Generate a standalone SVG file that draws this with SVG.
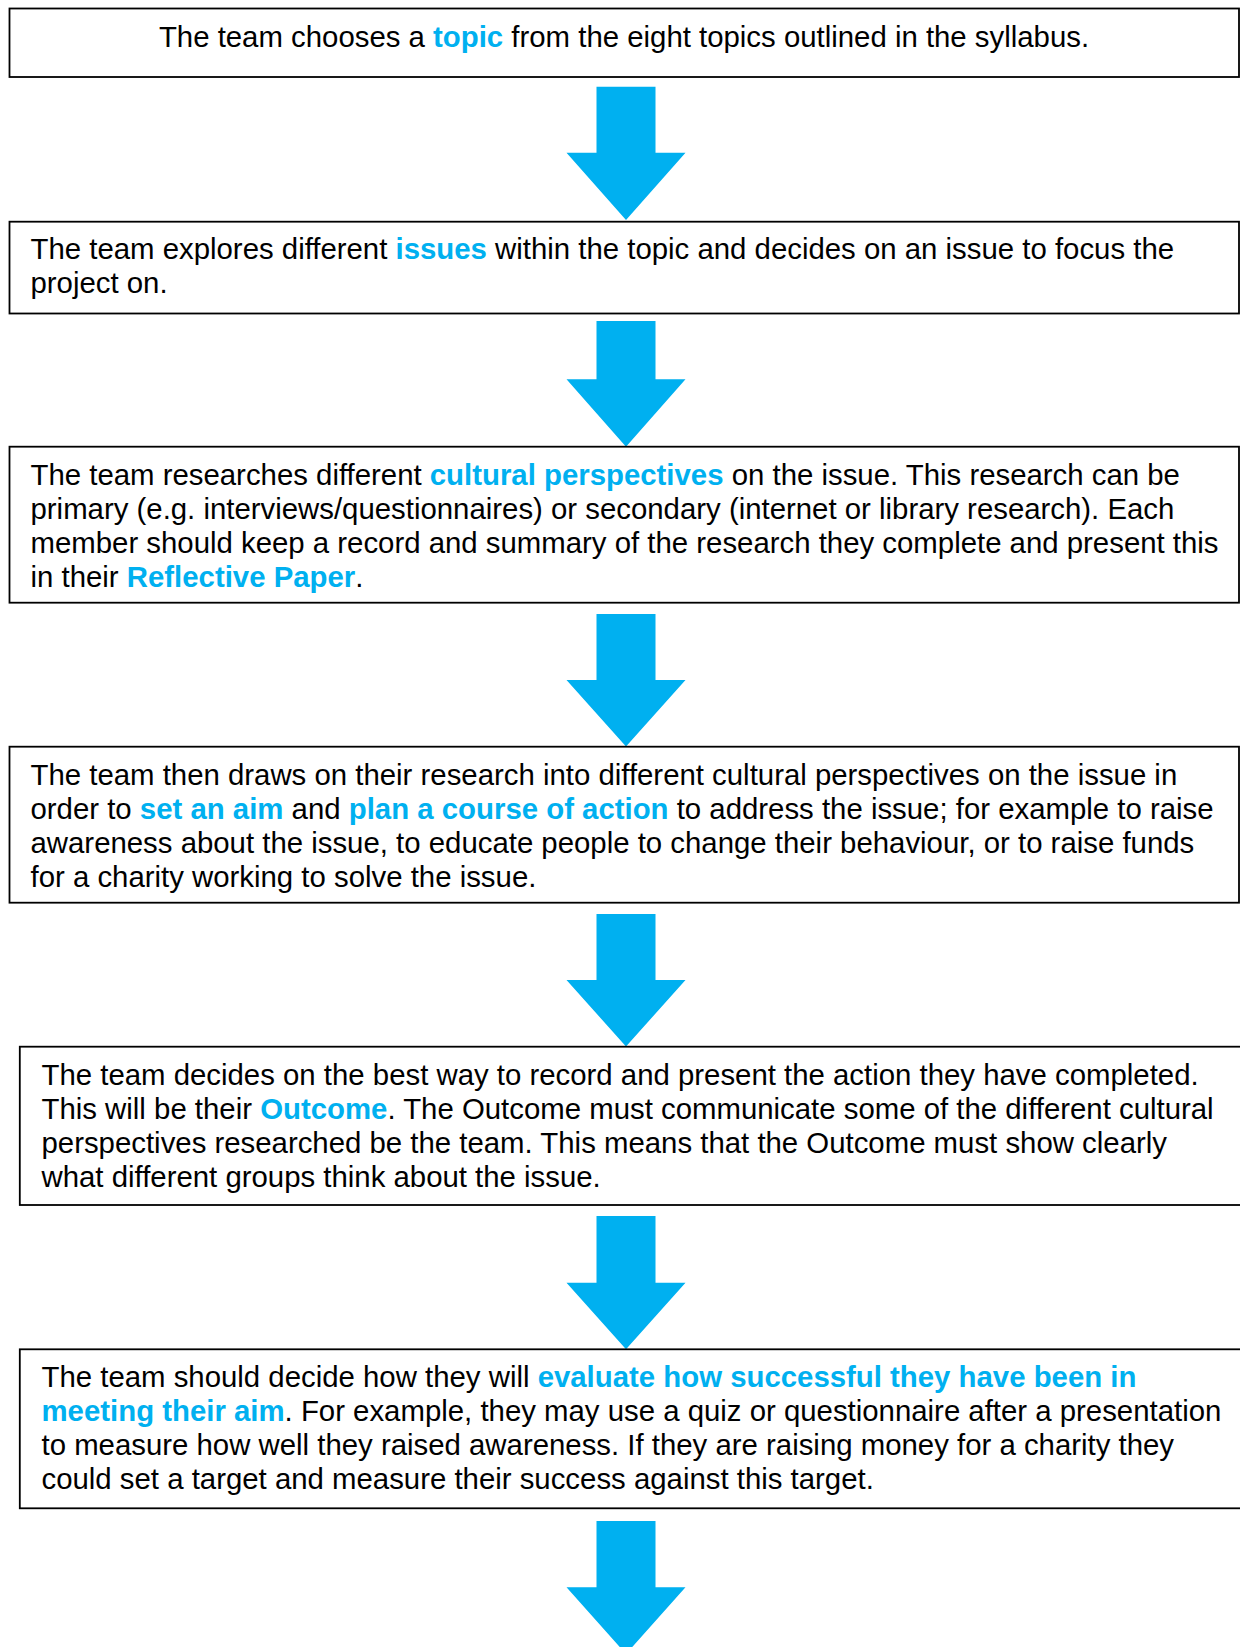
<svg xmlns="http://www.w3.org/2000/svg" width="1240" height="1647" viewBox="0 0 1240 1647">
<style>
.box{fill:#fff;stroke:#000;stroke-width:1.8}
.t{font-family:"Liberation Sans",Arial,sans-serif;font-size:29.37px;fill:#000}
.b{font-weight:bold;fill:#00B0F0}
.arr{fill:#00B0F0;stroke:none}
</style>
<rect width="1240" height="1647" fill="#fff"/>
<g id="connectors">
<path class="arr" d="M596.5,86.7H655.5V152.7H685.5L626,220L566.5,152.7H596.5Z"/>
<path class="arr" d="M596.5,321H655.5V379.3H685.5L626,446.7L566.5,379.3H596.5Z"/>
<path class="arr" d="M596.5,614H655.5V680H685.5L626,746.5L566.5,680H596.5Z"/>
<path class="arr" d="M596.5,914H655.5V980H685.5L626,1046.5L566.5,980H596.5Z"/>
<path class="arr" d="M596.5,1216H655.5V1282.7H685.5L626,1349.3L566.5,1282.7H596.5Z"/>
<path class="arr" d="M596.5,1521H655.5V1587.3H685.5L626,1654L566.5,1587.3H596.5Z"/>
</g>
<g id="step1">
<rect class="box" x="9.5" y="8.5" width="1229.5" height="68.5"/>
<text class="t" x="624" y="47" text-anchor="middle">The team chooses a <tspan class="b">topic</tspan> from the eight topics outlined in the syllabus.</text>
</g>
<g id="step2">
<rect class="box" x="9.5" y="221.7" width="1229.5" height="91.8"/>
<text class="t" x="30.5" y="259.3">The team explores different <tspan class="b">issues</tspan> within the topic and decides on an issue to focus the</text>
<text class="t" x="30.5" y="293.3">project on.</text>
</g>
<g id="step3">
<rect class="box" x="9.5" y="446.7" width="1229.5" height="156"/>
<text class="t" x="30.5" y="484.8">The team researches different <tspan class="b">cultural perspectives</tspan> on the issue. This research can be</text>
<text class="t" x="30.5" y="518.9">primary (e.g. interviews/questionnaires) or secondary (internet or library research). Each</text>
<text class="t" x="30.5" y="553.1">member should keep a record and summary of the research they complete and present this</text>
<text class="t" x="30.5" y="587.2">in their <tspan class="b">Reflective Paper</tspan>.</text>
</g>
<g id="step4">
<rect class="box" x="9.5" y="746.7" width="1229.5" height="156"/>
<text class="t" x="30.5" y="784.8">The team then draws on their research into different cultural perspectives on the issue in</text>
<text class="t" x="30.5" y="818.9">order to <tspan class="b">set an aim</tspan> and <tspan class="b">plan a course of action</tspan> to address the issue; for example to raise</text>
<text class="t" x="30.5" y="853.1">awareness about the issue, to educate people to change their behaviour, or to raise funds</text>
<text class="t" x="30.5" y="887.2">for a charity working to solve the issue.</text>
</g>
<g id="step5">
<rect class="box" x="19.8" y="1046.7" width="1230" height="158.3"/>
<text class="t" x="41.5" y="1084.8">The team decides on the best way to record and present the action they have completed.</text>
<text class="t" x="41.5" y="1118.9">This will be their <tspan class="b">Outcome</tspan>. The Outcome must communicate some of the different cultural</text>
<text class="t" x="41.5" y="1153.1">perspectives researched be the team. This means that the Outcome must show clearly</text>
<text class="t" x="41.5" y="1187.2">what different groups think about the issue.</text>
</g>
<g id="step6">
<rect class="box" x="19.8" y="1349.3" width="1230" height="159"/>
<text class="t" x="41.5" y="1387">The team should decide how they will <tspan class="b">evaluate how successful they have been in</tspan></text>
<text class="t" x="41.5" y="1421.2"><tspan class="b">meeting their aim</tspan>. For example, they may use a quiz or questionnaire after a presentation</text>
<text class="t" x="41.5" y="1455.3">to measure how well they raised awareness. If they are raising money for a charity they</text>
<text class="t" x="41.5" y="1489.3">could set a target and measure their success against this target.</text>
</g>
</svg>
